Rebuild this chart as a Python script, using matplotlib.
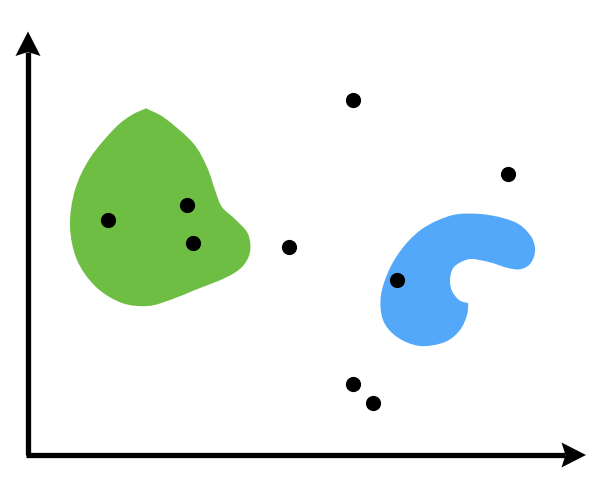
import matplotlib
matplotlib.use("Agg")
import matplotlib.pyplot as plt
import numpy as np
from matplotlib.path import Path
from matplotlib.patches import PathPatch

# scatter points (pixel coords, y down)
point_x = [353, 508, 108, 187, 193, 289, 397, 353, 373]
point_y = [100, 174, 220, 205, 243, 247, 280, 384, 403]

# cluster outlines (first point is a sharp corner)
green_x = [146, 165, 193, 207, 215, 222, 236, 248, 250, 242, 225, 195, 170, 148, 122,
           96, 77, 70, 75, 90, 115, 131.7]
green_y = [108.3, 118.3, 143, 167, 190, 207, 220, 234, 252, 267, 278, 290, 300, 306, 303,
           287, 260, 226, 190, 158, 128, 115]

blue_x = [468.3, 459, 452, 450, 453, 461.7, 472, 490, 506.7, 520, 530, 535, 532, 520,
          503, 480, 453, 425, 405, 390, 381, 383, 397, 420, 445, 460, 467]
blue_y = [303.3, 300, 291, 280, 268.3, 261.7, 259, 262.3, 267.7, 269.3, 264, 252, 238, 225,
          218, 214, 215, 227, 245, 268, 295, 320, 337, 346, 342, 330, 315]


def smooth_closed(xs, ys, corner=0):
    p = np.column_stack([xs, ys])
    n = len(p)
    verts = [p[0]]
    codes = [Path.MOVETO]
    for i in range(n):
        a, b, c, d = (i - 1) % n, i, (i + 1) % n, (i + 2) % n
        if b == corner:
            c1 = p[b] + (p[c] - p[b]) / 3
        else:
            c1 = p[b] + (p[c] - p[a]) / 6
        if c == corner:
            c2 = p[c] + (p[b] - p[c]) / 3
        else:
            c2 = p[c] - (p[d] - p[b]) / 6
        verts += [c1, c2, p[c]]
        codes += [Path.CURVE4] * 3
    return Path(verts, codes)


fig = plt.figure(figsize=(5.95, 4.94), dpi=100)
ax = fig.add_axes([0, 0, 1, 1])
ax.set_xlim(0, 595)
ax.set_ylim(494, 0)
ax.axis("off")

ax.add_patch(PathPatch(smooth_closed(green_x, green_y), facecolor="#6ebe44", edgecolor="none"))
ax.add_patch(PathPatch(smooth_closed(blue_x, blue_y), facecolor="#53a8fa", edgecolor="none"))

# axes arrows
ax.plot([28, 28], [455, 52], color="k", lw=3.8, solid_capstyle="butt")
ax.plot([25.5, 565], [455, 455], color="k", lw=3.8, solid_capstyle="butt")
ax.add_patch(plt.Polygon([[28, 31.5], [40.5, 56], [28, 52], [15.5, 56]], color="k", lw=0))
ax.add_patch(plt.Polygon([[586, 455], [561.5, 467.5], [565.5, 455], [561.5, 442.5]], color="k", lw=0))

ax.scatter(point_x, point_y, s=120, color="k", zorder=5, linewidths=0)

fig.savefig("out.png", dpi=100)
